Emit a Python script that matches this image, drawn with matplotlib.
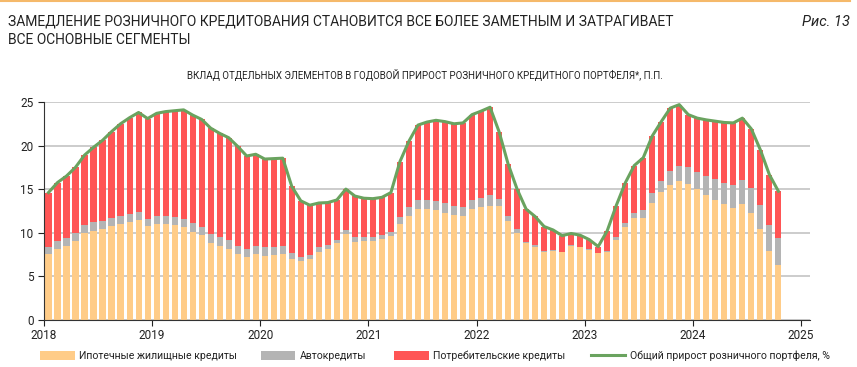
import matplotlib.pyplot as plt
import numpy as np

plt.rcParams['font.family'] = ['Roboto', 'DejaVu Sans']

# monthly data, Jan 2018 .. Oct 2024
mortgage = [7.5, 8.1, 8.5, 9.0, 9.9, 10.2, 10.4, 10.8, 11.0, 11.2, 11.4, 10.8,
            11.0, 11.0, 10.85, 10.6, 10.1, 9.7, 8.8, 8.45, 8.1, 7.55, 7.2, 7.55,
            7.3, 7.4, 7.5, 7.0, 6.75, 6.95, 7.75, 8.1, 8.75, 9.8, 8.95, 9.0,
            9.0, 9.25, 9.6, 11.0, 11.85, 12.7, 12.7, 12.6, 12.3, 12.0, 11.9, 12.7,
            12.9, 13.1, 13.0, 11.35, 10.0, 8.75, 8.4, 7.8, 7.9, 7.75, 8.5, 8.35,
            8.05, 7.65, 7.8, 9.15, 10.6, 11.65, 11.7, 13.45, 14.7, 15.5, 15.9, 15.6,
            15.0, 14.35, 13.75, 13.3, 12.8, 13.25, 12.25, 10.4, 7.85, 6.25]
auto = [0.9, 0.95, 0.9, 0.9, 1.0, 1.0, 0.95, 0.9, 0.9, 0.95, 1.0, 0.8,
        0.9, 0.95, 0.95, 1.0, 1.0, 1.0, 1.0, 1.05, 1.05, 0.95, 0.9, 0.95,
        1.0, 0.95, 1.0, 0.6, 0.5, 0.5, 0.55, 0.5, 0.4, 0.5, 0.55, 0.5,
        0.5, 0.45, 0.5, 0.8, 1.05, 1.05, 1.05, 1.05, 1.1, 1.1, 1.05, 1.05,
        1.1, 1.2, 0.9, 0.55, 0.4, 0.2, 0.2, 0.05, 0.05, 0.05, 0.05, 0.05,
        0.05, 0.05, 0.05, 0.35, 0.5, 0.65, 0.9, 1.05, 1.25, 1.6, 1.7, 1.9,
        1.95, 2.15, 2.4, 2.45, 2.65, 2.8, 2.85, 2.8, 3.05, 3.1]
consumer = [6.2, 6.7, 7.1, 7.6, 8.0, 8.6, 9.25, 9.9, 10.6, 11.05, 11.4, 11.5,
            11.8, 11.95, 12.2, 12.5, 12.4, 12.3, 12.2, 11.9, 11.75, 11.4, 10.7, 10.5,
            10.15, 10.15, 10.05, 7.7, 6.4, 5.7, 5.1, 4.85, 4.6, 4.7, 4.7, 4.45,
            4.4, 4.35, 4.5, 6.35, 7.6, 8.6, 8.95, 9.25, 9.35, 9.4, 9.65, 9.8,
            9.95, 10.1, 7.7, 6.0, 4.6, 3.75, 3.25, 2.85, 2.35, 1.85, 1.35, 1.3,
            1.1, 0.7, 2.35, 3.6, 4.6, 5.4, 6.0, 6.6, 6.8, 7.2, 7.1, 6.05,
            6.2, 6.45, 6.65, 6.9, 7.15, 7.1, 6.8, 6.3, 5.75, 5.4]
total = [14.6, 15.75, 16.5, 17.5, 18.9, 19.8, 20.6, 21.6, 22.5, 23.2, 23.8, 23.1,
         23.7, 23.9, 24.0, 24.1, 23.5, 23.0, 22.0, 21.4, 20.9, 19.9, 18.8, 19.0,
         18.45, 18.5, 18.55, 15.3, 13.65, 13.15, 13.4, 13.45, 13.75, 15.0, 14.2, 13.95,
         13.9, 14.05, 14.6, 18.15, 20.5, 22.35, 22.7, 22.9, 22.75, 22.5, 22.6, 23.55,
         23.95, 24.4, 21.6, 17.9, 15.0, 12.7, 11.85, 10.7, 10.3, 9.65, 9.9, 9.7,
         9.2, 8.4, 10.2, 13.1, 15.7, 17.7, 18.6, 21.1, 22.75, 24.3, 24.7, 23.55,
         23.15, 22.95, 22.8, 22.65, 22.6, 23.15, 21.9, 19.5, 16.65, 14.75]
years = ['2018', '2019', '2020', '2021', '2022', '2023', '2024', '2025']

c_mort = '#FFCC88'
c_auto = '#B4B4B4'
c_cons = '#FF5555'
c_line = '#6AA35F'
txt = '#222222'

x = np.arange(len(mortgage)) + 0.5
m = np.array(mortgage)
a = np.array(auto)

fig = plt.figure(figsize=(8.57, 3.67), dpi=100)
ax = fig.add_axes([0.0513, 0.129, 0.8938, 0.593])

b1 = ax.bar(x, mortgage, width=0.68, color=c_mort, zorder=2)
b2 = ax.bar(x, auto, width=0.68, bottom=m, color=c_auto, zorder=2)
b3 = ax.bar(x, consumer, width=0.68, bottom=m + a, color=c_cons, zorder=2)
l1, = ax.plot(x, total, color=c_line, lw=2.2, zorder=3)

ax.set_xlim(0, 85)
ax.set_ylim(0, 25)
ax.set_yticks(range(0, 26, 5))
ax.set_xticks(np.arange(0, 85, 12))
ax.set_xticklabels(years)
ax.yaxis.grid(True, color='#C8C8C8', lw=1.3, zorder=0)
ax.set_axisbelow(True)
for s in ['top', 'right']:
    ax.spines[s].set_visible(False)
ax.spines['left'].set_color('#333333')
ax.spines['bottom'].set_color('#333333')
ax.tick_params(axis='both', labelsize=8.5, colors=txt, length=4, width=0.8)
ax.tick_params(axis='x', pad=3)

fig.text(0.009, 0.96, 'ЗАМЕДЛЕНИЕ РОЗНИЧНОГО КРЕДИТОВАНИЯ СТАНОВИТСЯ ВСЕ БОЛЕЕ ЗАМЕТНЫМ И ЗАТРАГИВАЕТ\nВСЕ ОСНОВНЫЕ СЕГМЕНТЫ',
         fontsize=10, color=txt, va='top', ha='left', linespacing=1.35)
fig.text(0.992, 0.96, 'Рис. 13', fontsize=10.5, style='italic', color=txt, va='top', ha='right')
fig.text(0.496, 0.795, 'ВКЛАД ОТДЕЛЬНЫХ ЭЛЕМЕНТОВ В ГОДОВОЙ ПРИРОСТ РОЗНИЧНОГО КРЕДИТНОГО ПОРТФЕЛЯ*, П.П.',
         fontsize=7, color=txt, ha='center', va='center')
fig.add_artist(plt.Line2D([0.0, 0.992], [0.996, 0.996], color='#F5B96A', lw=1.5))

# one legend entry per position, as in the reference
items = [(b1, 'Ипотечные жилищные кредиты', 0.048),
         (b2, 'Автокредиты', 0.305),
         (b3, 'Потребительские кредиты', 0.461),
         (l1, 'Общий прирост розничного портфеля, %', 0.690)]
for h, lab, xpos in items:
    fig.legend([h], [lab], loc='center left', bbox_to_anchor=(xpos - 0.012, 0.03), frameon=False,
               fontsize=7.6, handlelength=3.3, handleheight=0.9, handletextpad=0.4, labelcolor=txt)

fig.savefig('out.png', dpi=100)
